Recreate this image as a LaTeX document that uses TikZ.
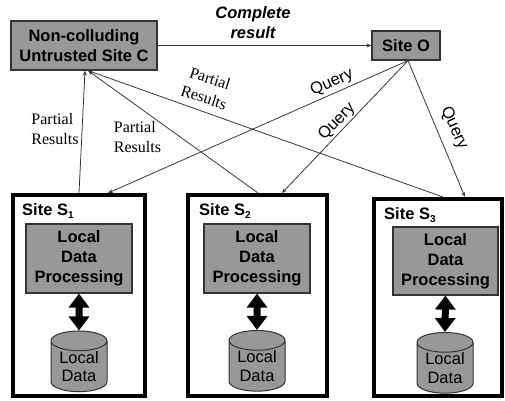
\documentclass[tikz,border=0pt]{standalone}
\usepackage{fontspec}
\setmainfont{Liberation Serif}
\setsansfont{Liberation Sans}
\usetikzlibrary{arrows.meta,shapes.geometric}
\definecolor{boxgray}{RGB}{152,152,152}
\definecolor{linegray}{RGB}{55,55,55}
\tikzset{
  graybox/.style={draw=black!80,line width=1.2pt,fill=boxgray,inner sep=0pt,align=center,
    font=\sffamily\bfseries\fontsize{16.5}{20}\selectfont},
  sitebox/.style={draw=black,line width=4pt,fill=white,inner sep=0pt},
  procbox/.style={graybox,minimum width=106pt,minimum height=69pt},
  dbcyl/.style={draw=black!80,line width=1pt,fill=boxgray,shape=cylinder,shape border rotate=90,
    aspect=0.5,minimum width=56pt,minimum height=56pt,inner sep=0pt,align=center,
    font=\sffamily\fontsize{16.5}{18.5}\selectfont},
  sitelabel/.style={anchor=base west,inner sep=0pt,font=\sffamily\bfseries\fontsize{16.5}{20}\selectfont},
  conn/.style={draw=linegray,line width=0.8pt,-{Stealth[length=5pt,width=4pt]}},
  bigarrow/.style={draw=black,line width=7pt,{Triangle[width=20pt,length=14pt]}-{Triangle[width=20pt,length=14pt]}},
  plabel/.style={inner sep=0pt,align=left,font=\rmfamily\fontsize{16}{20}\selectfont},
  qlabel/.style={inner sep=0pt,font=\sffamily\fontsize{16.5}{20}\selectfont}
}
\newcommand{\subidx}[1]{\raisebox{-0.35ex}{\fontsize{10}{10}\selectfont #1}}
\begin{document}
\begin{tikzpicture}[x=1pt,y=-1pt]
\useasboundingbox (0,0) rectangle (505,400);
% top boxes
\node[graybox,minimum width=146pt,minimum height=49pt] (C) at (84,45.5) {Non-colluding\\Untrusted Site C};
\node[graybox,minimum width=68pt,minimum height=29pt] (O) at (406,45.5) {Site O};
\node[inner sep=0pt,align=center,font=\sffamily\bfseries\itshape\fontsize{16.5}{20}\selectfont] (CR) at (253,23) {Complete\\result};
% site boxes
\node[sitebox,minimum width=132pt,minimum height=201pt] (S1) at (79,295.5) {};
\node[sitebox,minimum width=139pt,minimum height=201pt] (S2) at (257.5,295.5) {};
\node[sitebox,minimum width=128pt,minimum height=197pt] (S3) at (438,297.5) {};
\node[sitelabel] (L1) at (22,215) {Site S\subidx{1}};
\node[sitelabel] (L2) at (199,215) {Site S\subidx{2}};
\node[sitelabel] (L3) at (384,219) {Site S\subidx{3}};
% processing
\node[procbox] (P1) at (79,258.5) {Local\\Data\\Processing};
\node[procbox] (P2) at (257,258.5) {Local\\Data\\Processing};
\node[procbox,minimum width=105pt,minimum height=68pt] (P3) at (445.5,261) {Local\\Data\\Processing};
% databases
\node[dbcyl] (D1) at (79,366.5) {Local\\Data};
\node[dbcyl] (D2) at (257,366) {Local\\Data};
\node[dbcyl] (D3) at (445,368) {Local\\Data};
\draw[bigarrow] (P1.south) -- (D1.north);
\draw[bigarrow] (P2.south) -- (D2.north);
\draw[bigarrow] (P3.south) -- (D3.north);
% connectors
\draw[conn] (C.east) -- (O.west);
\draw[conn] (S1.north) -- ([xshift=1pt]C.south);
\draw[conn] ([xshift=0.5pt]S2.north) -- ([xshift=4pt]C.south);
\draw[conn] ([xshift=5pt]S3.north) -- ([xshift=4pt]C.south);
\draw[conn] ([xshift=2pt]O.south) -- ([xshift=29pt]S1.north);
\draw[conn] ([xshift=2pt]O.south) -- ([xshift=24.5pt]S2.north);
\draw[conn] ([xshift=2pt]O.south) -- ([xshift=27pt]S3.north);
% labels
\node[plabel] (PR1) at (55,129.5) {Partial\\Results};
\node[plabel] (PR2) at (137.5,137.5) {Partial\\Results};
\node[plabel,align=center,rotate=-18] (PR3) at (207,88) {Partial\\Results};
\node[qlabel,rotate=24] (Q1) at (332,83) {Query};
\node[qlabel,rotate=46] (Q2) at (337,122) {Query};
\node[qlabel,rotate=-66] (Q3) at (454,128) {Query};
\end{tikzpicture}
\end{document}
